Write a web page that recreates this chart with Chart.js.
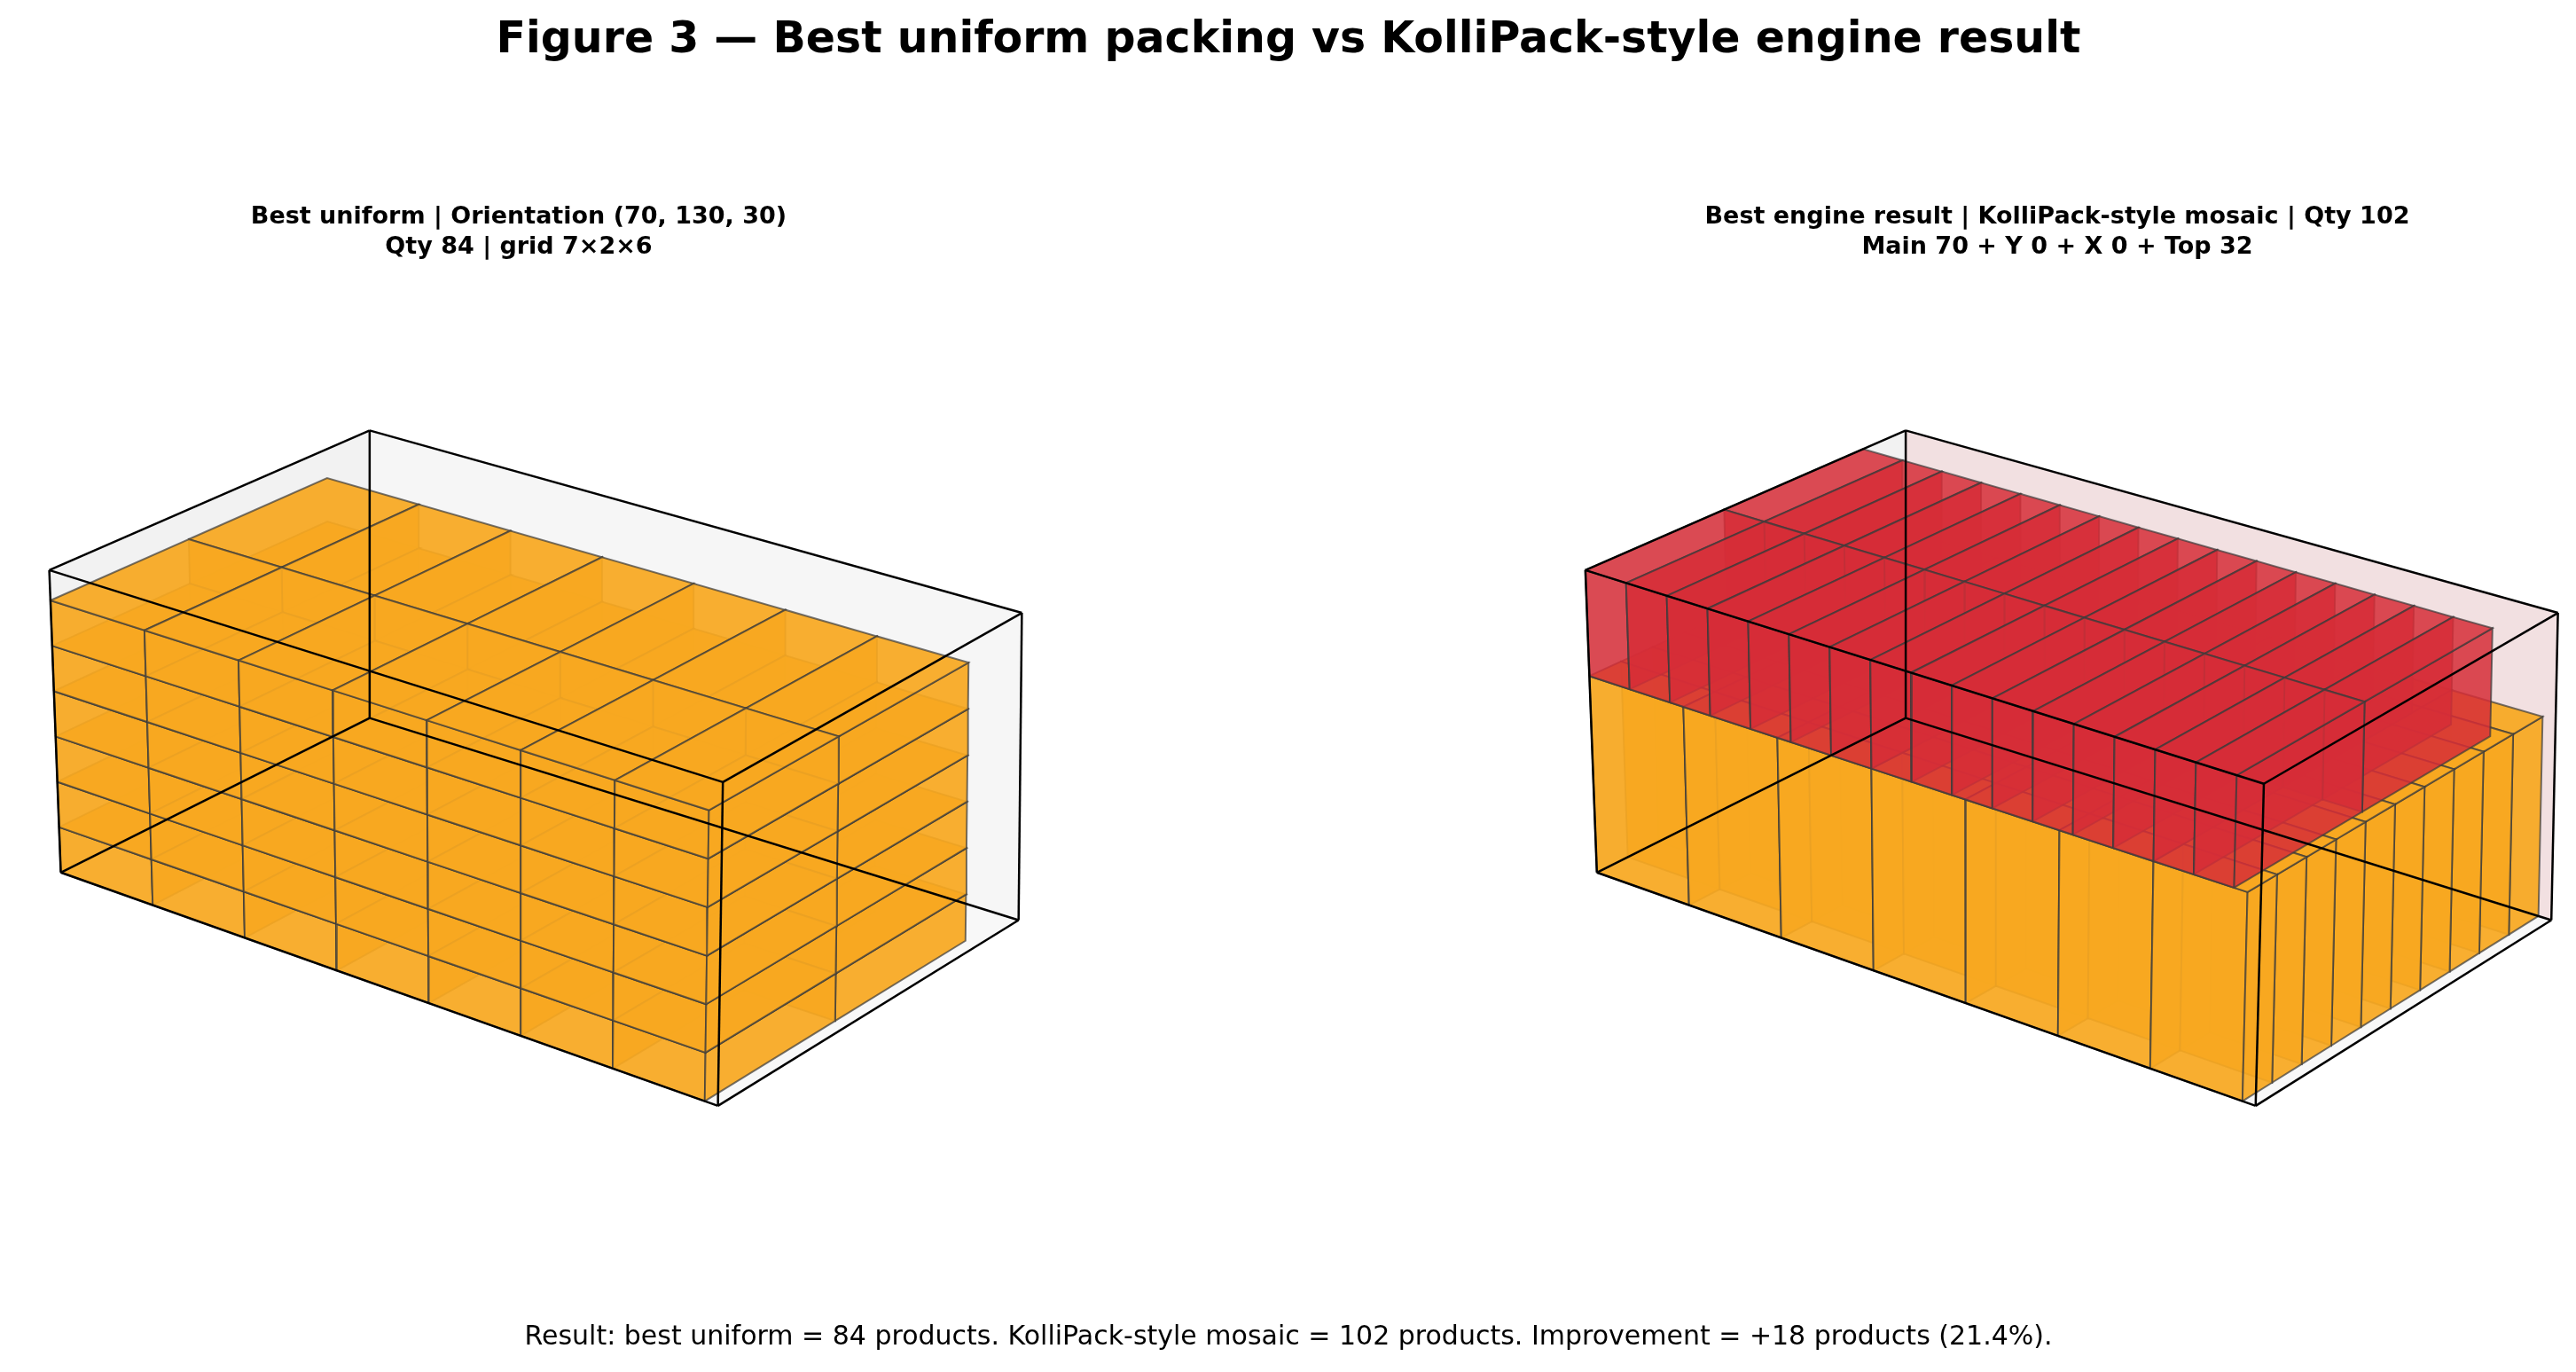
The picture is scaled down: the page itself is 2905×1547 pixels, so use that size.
<!DOCTYPE html>
<html><head><meta charset="utf-8">
<script src="https://cdn.jsdelivr.net/npm/chart.js@4.4.1/dist/chart.umd.min.js"></script>
<style>
html,body{margin:0;padding:0;background:#fff;font-family:"DejaVu Sans",sans-serif;}
#wrap{position:relative;width:2905px;height:1547px;}
canvas{position:absolute;left:0;top:0;}
.t{position:absolute;transform:translateX(-50%);text-align:center;white-space:nowrap;color:#000;}
</style></head><body>
<div id="wrap">
<canvas id="c" width="2905" height="1547"></canvas>
<div class="t" style="left:1453px;top:14px;font-size:49px;font-weight:bold;">Figure 3 — Best uniform packing vs KolliPack-style engine result</div>
<div class="t" style="left:585px;top:226px;font-size:27px;font-weight:bold;line-height:34px;">Best uniform | Orientation (70, 130, 30)<br>Qty 84 | grid 7×2×6</div>
<div class="t" style="left:2320px;top:226px;font-size:27px;font-weight:bold;line-height:34px;">Best engine result | KolliPack-style mosaic | Qty 102<br>Main 70 + Y 0 + X 0 + Top 32</div>
<div class="t" style="left:1453px;top:1488px;font-size:30px;">Result: best uniform = 84 products. KolliPack-style mosaic = 102 products. Improvement = +18 products (21.4%).</div>
</div>
<script>
// ---- data ----
const containerDims = [500, 300, 200];
const uniformBox = [70, 130, 30];
const uniformGrid = [7, 2, 6];
const mainBox = [70, 30, 130];
const mainGrid = [7, 10, 1];
const topBox = [30, 130, 70];
const topGrid = [16, 2, 1];
const topZ = 130;

// ---- layout: screen corners of container (figure units) ----
const W = 1568, H = 835;
const leftCorners = {c000:[37,531],c100:[437,673],c110:[620,560],c010:[225,437],c001:[30,347],c101:[440,476],c111:[622,373],c011:[225,262]};
const rightCorners = {c000:[972,531],c100:[1373,673],c110:[1553,560],c010:[1160,437],c001:[965,347],c101:[1378,477],c111:[1557,373],c011:[1160,262]};

function proj(C, p){
  const u=p[0]/containerDims[0], v=p[1]/containerDims[1], w=p[2]/containerDims[2];
  let x=0,y=0;
  for(const a of [0,1])for(const b of [0,1])for(const c of [0,1]){
    const wt=(a?u:1-u)*(b?v:1-v)*(c?w:1-w);
    const q=C['c'+a+b+c]; x+=wt*q[0]; y+=wt*q[1];
  }
  return {x,y};
}
function poly(C, pts, fillCol, edgeCol, bw){
  const d=pts.map(p=>proj(C,p)); d.push(d[0]);
  return {data:d, showLine:true, fill: fillCol? 'shape': false, backgroundColor: fillCol||'transparent',
    borderColor: edgeCol, borderWidth: bw, pointRadius:0, pointHoverRadius:0, tension:0};
}
function boxes(grid, size, off){
  const out=[];
  for(let i=0;i<grid[0];i++)for(let j=0;j<grid[1];j++)for(let k=0;k<grid[2];k++)
    out.push([off[0]+i*size[0], off[1]+j*size[1], off[2]+k*size[2], size]);
  return out;
}
function boxFaces(C, b, col){
  const [x0,y0,z0,s]=b, x1=x0+s[0], y1=y0+s[1], z1=z0+s[2];
  const e='rgba(60,60,60,0.7)';
  return [
    poly(C,[[x0,y0,z0],[x1,y0,z0],[x1,y0,z1],[x0,y0,z1]],col,e,2),
    poly(C,[[x1,y0,z0],[x1,y1,z0],[x1,y1,z1],[x1,y0,z1]],col,e,2),
    poly(C,[[x0,y0,z1],[x1,y0,z1],[x1,y1,z1],[x0,y1,z1]],col,e,2)
  ];
}
function panel(C, list, paneCol){
  const [X,Y,Z]=containerDims, ds=[];
  ds.push(poly(C,[[0,0,0],[X,0,0],[X,Y,0],[0,Y,0]],'rgba(248,248,248,1)','transparent',0));
  ds.push(poly(C,[[0,0,0],[0,Y,0],[0,Y,Z],[0,0,Z]],'rgba(242,242,242,1)','transparent',0));
  ds.push(poly(C,[[0,Y,0],[X,Y,0],[X,Y,Z],[0,Y,Z]],paneCol,'transparent',0));
  list.sort((a,b)=>{
    const ka=(a[0][0]+a[0][3][0]/2)-(a[0][1]+a[0][3][1]/2)+(a[0][2]+a[0][3][2]/2);
    const kb=(b[0][0]+b[0][3][0]/2)-(b[0][1]+b[0][3][1]/2)+(b[0][2]+b[0][3][2]/2);
    return ka-kb;
  });
  for(const [b,col] of list) ds.push(...boxFaces(C,b,col));
  const edges=[[[0,0,0],[X,0,0]],[[X,0,0],[X,Y,0]],[[X,Y,0],[0,Y,0]],[[0,Y,0],[0,0,0]],
    [[0,0,Z],[X,0,Z]],[[X,0,Z],[X,Y,Z]],[[X,Y,Z],[0,Y,Z]],[[0,Y,Z],[0,0,Z]],
    [[0,0,0],[0,0,Z]],[[X,0,0],[X,0,Z]],[[X,Y,0],[X,Y,Z]],[[0,Y,0],[0,Y,Z]]];
  for(const e of edges){const d=poly(C,e,null,'#000',2.5); d.data.pop(); ds.push(d);}
  return ds;
}
const orange='rgba(247,168,32,0.93)', red='rgba(214,45,55,0.85)';
const leftList=boxes(uniformGrid,uniformBox,[0,0,0]).map(b=>[b,orange]);
const rightList=boxes(mainGrid,mainBox,[0,0,0]).map(b=>[b,orange])
  .concat(boxes(topGrid,topBox,[0,0,topZ]).map(b=>[b,red]));
let datasets=panel(leftCorners,leftList,'rgba(246,246,246,1)').concat(panel(rightCorners,rightList,'rgba(242,224,225,1)'));
datasets.forEach((d,i)=>d.order=datasets.length-i);

new Chart(document.getElementById('c'),{
  type:'scatter',
  data:{datasets},
  options:{responsive:false,animation:false,devicePixelRatio:1,
    layout:{padding:0},
    plugins:{legend:{display:false},tooltip:{enabled:false},filler:{drawTime:'beforeDatasetDraw'}},
    events:[],
    scales:{x:{type:'linear',min:0,max:W,display:false},y:{type:'linear',min:0,max:H,reverse:true,display:false}}
  }
});
</script>
</body></html>
